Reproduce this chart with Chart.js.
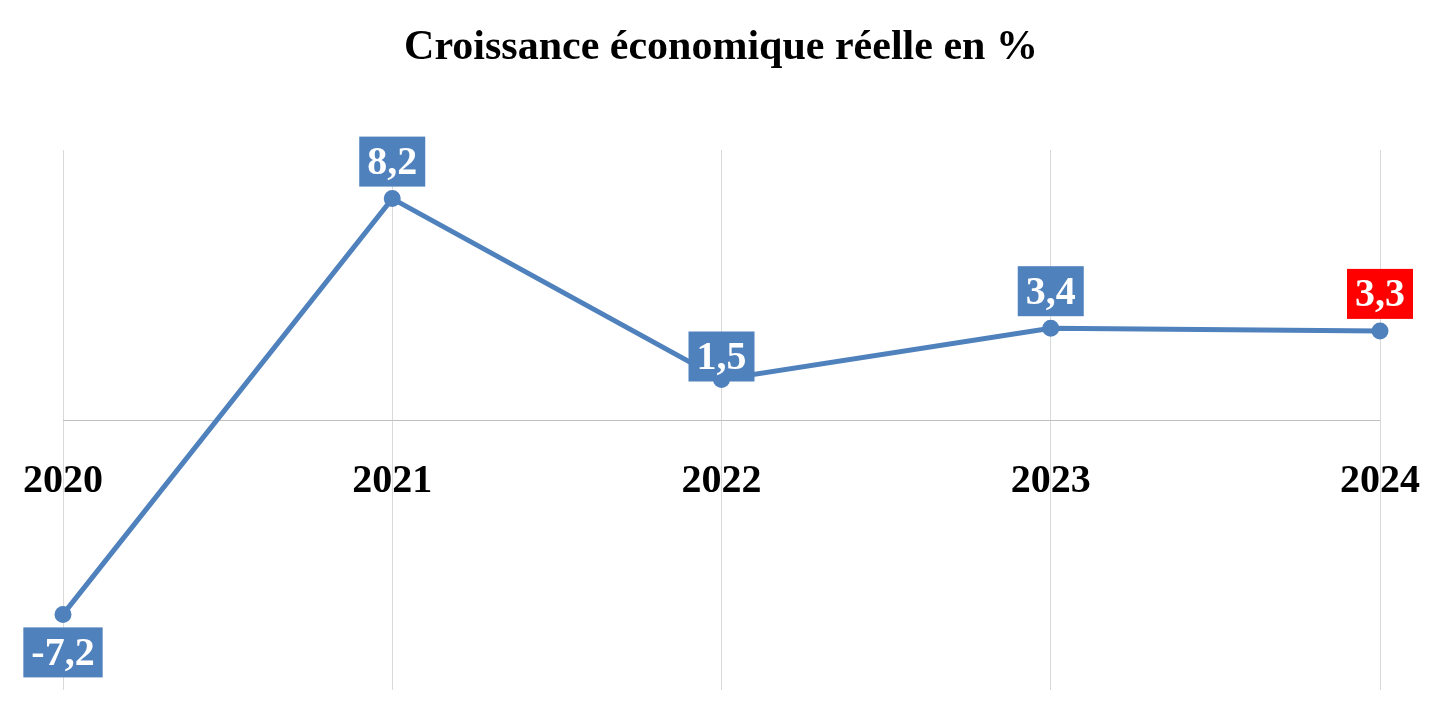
<!DOCTYPE html>
<html><head><meta charset="utf-8">
<script src="https://cdn.jsdelivr.net/npm/chart.js@4"></script>
<style>html,body{margin:0;padding:0;background:#fff}#w{width:1443px;height:718px}</style>
</head><body><div id="w"><canvas id="c"></canvas></div>
<script>
const categories = ["2020","2021","2022","2023","2024"];
const growth = [-7.2, 8.2, 1.5, 3.4, 3.3];
const valueLabels = ["-7,2","8,2","1,5","3,4","3,3"];
const boxColors = ["#4f81bd","#4f81bd","#4f81bd","#4f81bd","#ff0000"];
const labelOffsets = [38, -37, -23, -37, -37];
const titleText = "Croissance économique réelle en %";

const deco = {
  id:'deco',
  afterDatasetsDraw(chart){
    const ctx = chart.ctx, xs = chart.scales.x, ys = chart.scales.y;
    ctx.save();
    ctx.font = 'bold 42px "Liberation Serif", "Times New Roman", serif';
    ctx.textAlign='center'; ctx.textBaseline='middle'; ctx.fillStyle='#000';
    ctx.fillText(titleText, 721, 48);
    ctx.font = 'bold 40px "Liberation Serif", "Times New Roman", serif';
    categories.forEach((c,i)=>{ ctx.fillStyle='#000'; ctx.fillText(c, xs.getPixelForValue(i), ys.getPixelForValue(0)+62); });
    const meta = chart.getDatasetMeta(0);
    meta.data.forEach((p,i)=>{
      const t = valueLabels[i];
      const w = ctx.measureText(t).width + 16, h = 50;
      const cy = p.y + labelOffsets[i];
      ctx.fillStyle = boxColors[i];
      ctx.fillRect(p.x - w/2, cy - h/2, w, h);
      ctx.fillStyle = '#fff';
      ctx.fillText(t, p.x, cy+2);
    });
    ctx.restore();
  }
};

new Chart(document.getElementById('c'), {
  type:'line',
  data:{labels:categories, datasets:[{data:growth, borderColor:'#4f81bd', backgroundColor:'#4f81bd', borderWidth:5, pointRadius:6, pointHoverRadius:6, tension:0}]},
  options:{
    responsive:true, maintainAspectRatio:false, animation:false,
    layout:{padding:{left:63,right:63,top:150,bottom:28}},
    plugins:{legend:{display:false},tooltip:{enabled:false}},
    scales:{
      x:{offset:false, border:{display:false}, ticks:{display:false}, grid:{color:'#d9d9d9', drawTicks:false}},
      y:{min:-10,max:10, border:{display:false}, ticks:{display:false, stepSize:10}, grid:{drawTicks:false, color:(c)=>c.tick && c.tick.value===0 ? '#bfbfbf' : 'rgba(0,0,0,0)'}}
    }
  },
  plugins:[deco]
});
</script></body></html>
